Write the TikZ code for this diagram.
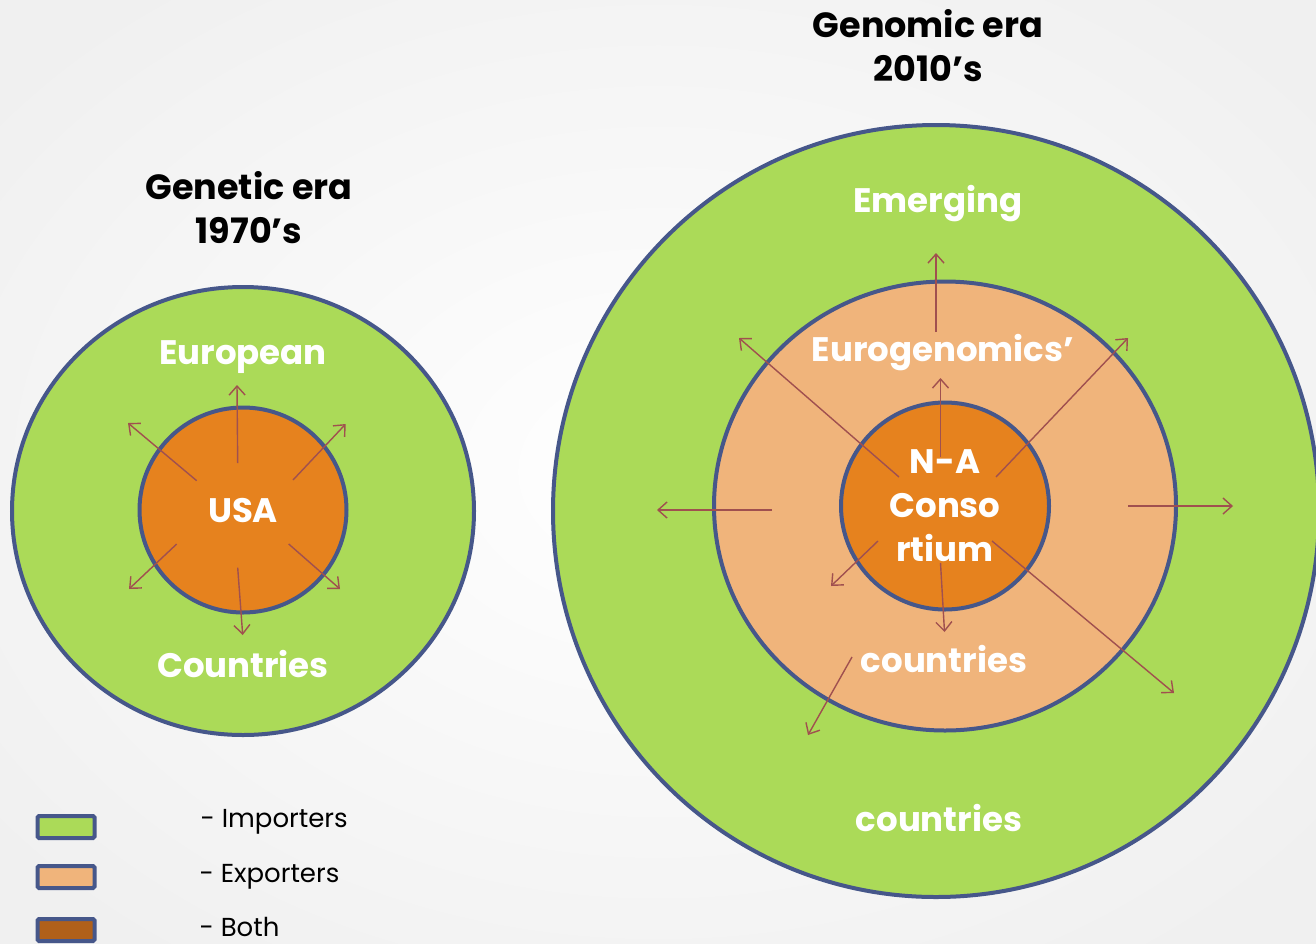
\documentclass[tikz,border=0pt]{standalone}
\usepackage{fontspec}
\setmainfont{Poppins}
\usetikzlibrary{shapes.geometric,arrows.meta}
\definecolor{imp}{HTML}{ABDA58}
\definecolor{expo}{HTML}{F0B47B}
\definecolor{both}{HTML}{E6821E}
\definecolor{bothleg}{HTML}{B0601A}
\definecolor{rim}{HTML}{46578A}
\definecolor{arr}{HTML}{A0504F}
\tikzset{
  ring/.style={ellipse, draw=rim, line width=4pt, inner sep=0pt},
  flow/.style={draw=arr, line width=1.4pt, -{Straight Barb[length=9pt,width=16pt,line width=1.4pt]}},
  title/.style={font=\fontsize{35}{44}\selectfont\bfseries, text=black, align=center},
  lab/.style={font=\fontsize{34}{44}\selectfont\bfseries, text=white, align=center},
  legbox/.style={draw=rim, line width=4pt, rounded corners=1.5pt, minimum width=57pt, minimum height=22pt, inner sep=0pt},
  legtxt/.style={font=\fontsize{26}{30}\selectfont, anchor=west, text=black}
}
\begin{document}
\begin{tikzpicture}[x=1pt,y=-1pt]
\useasboundingbox (0,0) rectangle (1316,943);
\clip (0,0) rectangle (1316,943);
\shade[inner color=white, outer color=black!6] (-200,-150) rectangle (1516,1093);
% left diagram
\node[ring, fill=imp, minimum width=462pt, minimum height=448pt] (lout) at (243,511) {};
\node[ring, fill=both, minimum width=207pt, minimum height=205pt] (lin) at (243,510) {};
\node[title] (ltitle) at (249,208) {Genetic era\\1970’s};
\node[lab] (leu) at (243,357) {European};
\node[lab] (lco) at (243,664) {Countries};
\node[lab] (lusa) at (243,511) {USA};
\foreach \n/\a/\b in {a/{237.7,463}/{237,385}, b/{196.7,480.7}/{128,423}, c/{293,480}/{345.7,424},
  d/{176.7,544}/{129,589}, e/{288.7,544}/{340,589}, f/{237.7,567.7}/{242.7,635}}{
  \coordinate (ls\n) at (\a); \coordinate (le\n) at (\b);
  \draw[flow] (ls\n) -- (le\n);
}
% right diagram
\node[ring, fill=imp, minimum width=766pt, minimum height=772pt] (rout) at (936,511) {};
\node[ring, fill=expo, minimum width=462pt, minimum height=449pt] (rmid) at (945,506) {};
\node[ring, fill=both, minimum width=208pt, minimum height=207pt] (rin) at (945,506) {};
\node[title] (rtitle) at (928,46) {Genomic era\\2010’s};
\node[lab] (rem) at (938,204) {Emerging};
\node[lab] (reu) at (943,353) {Eurogenomics’};
\node[lab] (rna) at (945,506) {N-A\\Conso\\rtium};
\node[lab] (rco1) at (944,659) {countries};
\node[lab] (rco2) at (939,818) {countries};
\foreach \n/\a/\b in {a/{936,332}/{936,253}, b/{940.5,457}/{940.5,378}, c/{899,477}/{739,338},
  d/{996,477}/{1128,338}, e/{772,510}/{657,510}, f/{1128,506}/{1233,506},
  g/{878,541}/{831,586}, h/{940.5,563}/{944.5,632}, i/{992,541}/{1174,693}, j/{852,657}/{808,735}}{
  \coordinate (rs\n) at (\a); \coordinate (re\n) at (\b);
  \draw[flow] (rs\n) -- (re\n);
}
% legend
\node[legbox, fill=imp] (k1) at (66,827) {};
\node[legbox, fill=expo] (k2) at (66,877) {};
\node[legbox, fill=bothleg] (k3) at (66,930) {};
\node[legtxt] (t1) at (197,822) {- Importers};
\node[legtxt] (t2) at (196,877) {- Exporters};
\node[legtxt] (t3) at (196,927) {- Both};
\end{tikzpicture}
\end{document}
